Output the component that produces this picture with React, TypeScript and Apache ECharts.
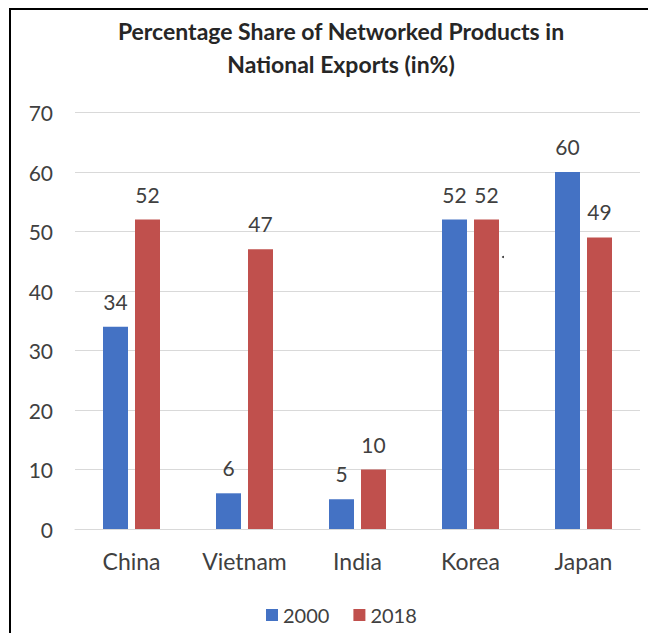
import React, { useEffect, useRef } from "react";
import * as echarts from "echarts";

const categories = ["China", "Vietnam", "India", "Korea", "Japan"];
const seriesNames = ["2000", "2018"];
const values2000 = [34, 6, 5, 52, 60];
const values2018 = [52, 47, 10, 52, 49];
const yTicks = { min: 0, max: 70, interval: 10 };
const titleLines = ["Percentage Share of Networked Products in", "National Exports (in%)"];

const FONT = "Lato, 'Open Sans', sans-serif";
const TEXT = "#404040";

export default function App() {
  const ref = useRef<HTMLDivElement>(null);
  useEffect(() => {
    document.body.style.margin = "0";
    const chart = echarts.init(ref.current!, null, { renderer: "svg" });
    const label = {
      show: true,
      position: "top",
      distance: 15,
      fontSize: 21,
      color: TEXT,
      fontFamily: FONT,
    };
    chart.setOption({
      animation: false,
      backgroundColor: "#ffffff",
      textStyle: { fontFamily: FONT },
      graphic: [
        { type: "rect", shape: { x: 9, y: 8, width: 700, height: 2 }, style: { fill: "#000" } },
        { type: "rect", shape: { x: 9, y: 8, width: 2, height: 700 }, style: { fill: "#000" } },
        {
          type: "text",
          x: 341,
          y: 14,
          style: {
            text: titleLines.join("\n"),
            align: "center",
            verticalAlign: "top",
            fontSize: 23,
            fontWeight: "bold",
            lineHeight: 33,
            fill: "#262626",
            fontFamily: FONT,
          },
        },
        { type: "circle", shape: { cx: 503, cy: 257, r: 1 }, style: { fill: "#333" } },
      ],
      legend: {
        data: seriesNames,
        top: 605,
        left: 266,
        padding: 0,
        itemWidth: 12,
        itemHeight: 12,
        itemGap: 24,
        icon: "rect",
        textStyle: { fontSize: 20, color: TEXT, fontFamily: FONT },
      },
      grid: { left: 75, right: 8, top: 112.5, bottom: 104, containLabel: false },
      xAxis: {
        type: "category",
        data: categories,
        axisLine: { lineStyle: { color: "#d9d9d9" } },
        axisTick: { show: false },
        axisLabel: { fontSize: 23, color: TEXT, margin: 20, fontFamily: FONT },
      },
      yAxis: {
        type: "value",
        min: yTicks.min,
        max: yTicks.max,
        interval: yTicks.interval,
        axisLine: { show: false },
        axisTick: { show: false },
        axisLabel: { fontSize: 21, color: TEXT, margin: 22, fontFamily: FONT },
        splitLine: { lineStyle: { color: "#d9d9d9" } },
      },
      series: [
        {
          name: seriesNames[0],
          type: "bar",
          data: values2000,
          barWidth: 25,
          barGap: "28%",
          itemStyle: { color: "#4472C4" },
          label,
        },
        {
          name: seriesNames[1],
          type: "bar",
          data: values2018,
          barWidth: 25,
          barGap: "28%",
          itemStyle: { color: "#C0504D" },
          label,
        },
      ],
    });
    return () => chart.dispose();
  }, []);
  return <div ref={ref} style={{ width: 648, height: 633 }} />;
}
